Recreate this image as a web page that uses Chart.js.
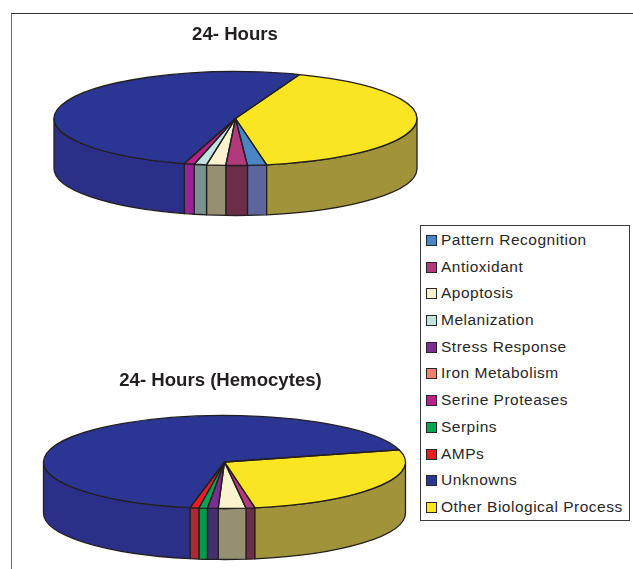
<!DOCTYPE html>
<html>
<head>
<meta charset="utf-8">
<script src="https://cdn.jsdelivr.net/npm/chart.js@4"></script>
<style>
html,body{margin:0;padding:0;background:#fff;overflow:hidden;width:633px;height:569px}
canvas{position:absolute;left:0;top:0}
#frame{position:absolute;left:11px;top:13px;width:640px;height:600px;border-left:1px solid #6f6f6f;border-top:1px solid #333}
#legend{position:absolute;left:420px;top:225px;width:208px;height:293px;border:1px solid #3a3a3a;background:#fff;box-sizing:content-box;padding-top:1px;
font:15.5px "Liberation Sans",Arial,sans-serif;color:#2a2627;letter-spacing:0.5px}
#legend div{height:26.7px;line-height:25.5px;white-space:nowrap;position:relative;padding-left:20px}
#legend i{position:absolute;left:5px;top:8px;width:9px;height:9px;border:1px solid #2a2627}
</style>
</head>
<body>
<div id="frame"></div>
<canvas id="c1" width="633" height="569"></canvas>
<canvas id="c2" width="633" height="569"></canvas>
<div id="legend"></div>
<script>
const categories = ["Pattern Recognition","Antioxidant","Apoptosis","Melanization","Stress Response","Iron Metabolism","Serine Proteases","Serpins","AMPs","Unknowns","Other Biological Process"];
const hours24 = [1.7,1.9,1.7,1.1,0,0,0.9,0,0,51.2,41.5];
const hemocytes = [0,0.8,2.45,0,0.95,0,0,0.75,0.8,67.8,26.5];
const topColors = ["#4a86c5","#b23a7c","#fbf3d0","#bfe3df","#7a2f90","#f37f6f","#b92089","#00a651","#ed1c24","#2b3594","#fae522"];
const wallColors = ["#5c659d","#6b2e46","#968f70","#7a9391","#45306f","#9a5a50","#932690","#00984a","#ad2a34","#2c2f87","#a0933a"];
const titles = ["24- Hours","24- Hours (Hemocytes)"];

const INK = "#231f20";
const tilt = {
  id: "tilt",
  afterLayout(chart, args, o) {
    const t = chart.titleBlock;
    const w = t.right - t.left, h = t.bottom - t.top;
    t.left = o.titleX - w / 2; t.right = o.titleX + w / 2;
    t.top = o.titleY - h / 2; t.bottom = o.titleY + h / 2;
  },
  beforeDatasetsDraw(chart, args, o) {
    const ctx = chart.ctx, arcs = chart.getDatasetMeta(0).data;
    const a0 = arcs[0], rx = a0.outerRadius, cx = a0.x;
    ctx.save();
    ctx.lineWidth = 1.3; ctx.strokeStyle = INK; ctx.lineJoin = "round";
    arcs.forEach((arc, i) => {
      if (arc.endAngle - arc.startAngle < 1e-4) return;
      // clip the slice to the front half of the disc, allowing for wrap-around
      [0, 2 * Math.PI].forEach(shift => {
        const a = Math.max(arc.startAngle - shift, 0), b = Math.min(arc.endAngle - shift, Math.PI);
        if (b <= a) return;
        ctx.beginPath();
        ctx.ellipse(cx, o.cy, rx, o.ry, 0, a, b);
        ctx.ellipse(cx, o.cy + o.depth, rx, o.ry, 0, b, a, true);
        ctx.closePath();
        ctx.fillStyle = wallColors[i];
        ctx.fill(); ctx.stroke();
      });
    });
    ctx.restore();
    ctx.save();
    ctx.translate(cx, o.cy);
    ctx.scale(1, o.ry / rx);
    ctx.translate(-cx, -a0.y);
  },
  afterDatasetsDraw(chart, args, o) {
    const ctx = chart.ctx, arcs = chart.getDatasetMeta(0).data;
    ctx.restore();
    const rx = arcs[0].outerRadius, cx = arcs[0].x;
    ctx.save();
    ctx.lineWidth = 1.3; ctx.strokeStyle = INK; ctx.lineJoin = "round";
    arcs.forEach(arc => {
      if (arc.endAngle - arc.startAngle < 1e-4) return;
      ctx.beginPath();
      ctx.moveTo(cx, o.cy);
      ctx.ellipse(cx, o.cy, rx, o.ry, 0, arc.startAngle, arc.endAngle);
      ctx.closePath();
      ctx.stroke();
    });
    ctx.restore();
  }
};

function makePie(id, values, title, startDeg, pad, view) {
  return new Chart(document.getElementById(id), {
    type: "pie",
    data: { labels: categories, datasets: [{ data: values, backgroundColor: topColors, borderWidth: 0 }] },
    options: {
      responsive: false, animation: false, rotation: startDeg,
      layout: { padding: pad },
      plugins: {
        legend: { display: false }, tooltip: { enabled: false },
        title: { display: true, text: title, color: INK, font: { family: "'Liberation Sans',Arial,sans-serif", size: 18.6, weight: "bold" }, padding: 0 },
        tilt: view
      }
    },
    plugins: [tilt]
  });
}
makePie("c1", hours24, titles[0], 170.1, { left: 54, right: 216, top: 0, bottom: 0 }, { cy: 118.5, ry: 47, depth: 50, titleX: 235, titleY: 34.5 });
makePie("c2", hemocytes, titles[1], 170.3, { left: 43.5, right: 227.5, top: 0, bottom: 0 }, { cy: 462, ry: 46.5, depth: 51, titleX: 220.5, titleY: 380.5 });

const box = document.getElementById("legend");
categories.forEach((name, i) => {
  const row = document.createElement("div");
  const sw = document.createElement("i");
  sw.style.background = topColors[i];
  row.appendChild(sw);
  row.appendChild(document.createTextNode(name));
  box.appendChild(row);
});
</script>
</body>
</html>
